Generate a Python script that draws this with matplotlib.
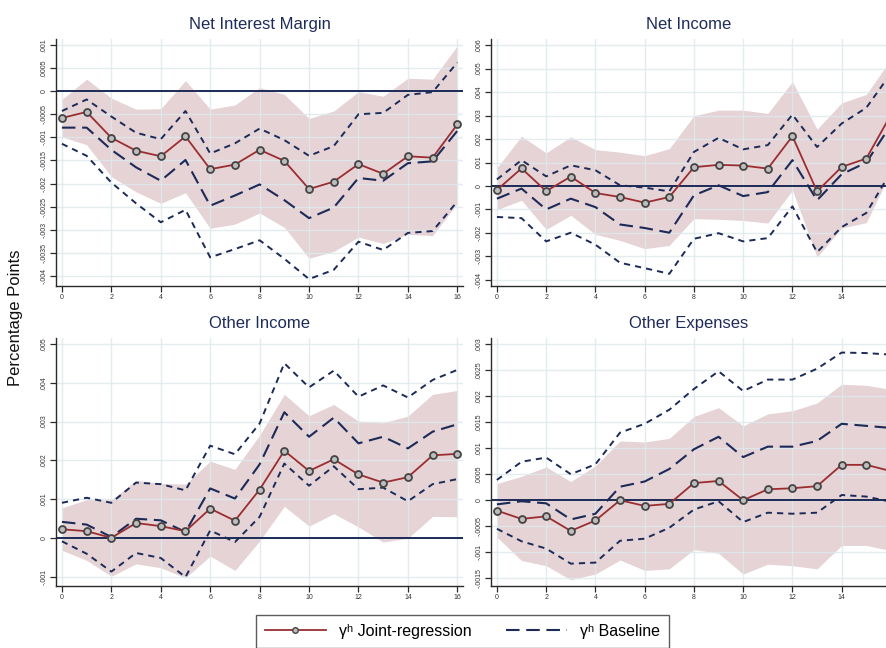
import numpy as np
import matplotlib
matplotlib.use("Agg")
import matplotlib.pyplot as plt
from matplotlib.lines import Line2D
from matplotlib.ticker import FuncFormatter

plt.rcParams['font.family'] = ['Liberation Sans', 'DejaVu Sans']

horizons = list(range(17))

titles = ["Net Interest Margin", "Net Income", "Other Income", "Other Expenses"]

# ---- Net Interest Margin ----
nim_joint = [-0.00058, -0.00045, -0.00101, -0.00129, -0.00141, -0.00098, -0.00169, -0.00159, -0.00127,
             -0.00151, -0.00212, -0.00196, -0.00158, -0.00179, -0.00141, -0.00144, -0.00072]
nim_joint_hi = [-0.00018, 0.00026, -0.00015, -0.00039, -0.00038, 0.00023, -0.00039, -0.00030, 0.00008,
                -0.00007, -0.00059, -0.00043, -0.00001, -0.00011, 0.00028, 0.00026, 0.00098]
nim_joint_lo = [-0.00099, -0.00116, -0.00185, -0.00218, -0.00243, -0.00220, -0.00297, -0.00288, -0.00264,
                -0.00295, -0.00362, -0.00347, -0.00316, -0.00330, -0.00310, -0.00313, -0.00243]
nim_base = [-0.00079, -0.00079, -0.00127, -0.00165, -0.00194, -0.00149, -0.00248, -0.00226, -0.00202,
            -0.00236, -0.00275, -0.00252, -0.00188, -0.00194, -0.00156, -0.00152, -0.00086]
nim_base_hi = [-0.00043, -0.00018, -0.00055, -0.00090, -0.00104, -0.00043, -0.00135, -0.00113, -0.00081,
               -0.00106, -0.00140, -0.00119, -0.00050, -0.00047, -0.00008, -0.00002, 0.00062]
nim_base_lo = [-0.00114, -0.00140, -0.00198, -0.00243, -0.00284, -0.00257, -0.00360, -0.00342, -0.00323,
               -0.00363, -0.00407, -0.00387, -0.00326, -0.00344, -0.00307, -0.00303, -0.00239]

# ---- Net Income ----
ni_joint = [-0.00017, 0.00075, -0.00022, 0.00040, -0.00030, -0.00047, -0.00071, -0.00047, 0.00080,
            0.00090, 0.00087, 0.00074, 0.00212, -0.00023, 0.00081, 0.00117, 0.00303]
ni_joint_hi = [0.00077, 0.00212, 0.00141, 0.00209, 0.00155, 0.00144, 0.00129, 0.00159, 0.00299,
               0.00323, 0.00323, 0.00309, 0.00444, 0.00242, 0.00354, 0.00390, 0.00540]
ni_joint_lo = [-0.00101, -0.00061, -0.00185, -0.00125, -0.00206, -0.00232, -0.00267, -0.00253, -0.00139,
               -0.00142, -0.00147, -0.00158, -0.00018, -0.00303, -0.00179, -0.00156, 0.00060]
ni_base = [-0.00054, -0.00011, -0.00100, -0.00054, -0.00090, -0.00164, -0.00179, -0.00199, -0.00040,
           0.00003, -0.00043, -0.00026, 0.00110, -0.00061, 0.00050, 0.00100, 0.00260]
ni_base_hi = [0.00028, 0.00110, 0.00041, 0.00088, 0.00067, 0.00003, -0.00007, -0.00023, 0.00145,
              0.00205, 0.00156, 0.00174, 0.00304, 0.00166, 0.00266, 0.00333, 0.00480]
ni_base_lo = [-0.00132, -0.00137, -0.00236, -0.00199, -0.00250, -0.00327, -0.00350, -0.00374, -0.00225,
              -0.00201, -0.00236, -0.00222, -0.00087, -0.00282, -0.00175, -0.00115, 0.00060]

# ---- Other Income ----
oi_joint = [0.00023, 0.00018, 0.00001, 0.00039, 0.00031, 0.00018, 0.00076, 0.00045, 0.00125,
            0.00225, 0.00173, 0.00203, 0.00164, 0.00143, 0.00157, 0.00213, 0.00217]
oi_joint_hi = [0.00078, 0.00099, 0.00099, 0.00149, 0.00141, 0.00139, 0.00198, 0.00177, 0.00265,
               0.00370, 0.00315, 0.00344, 0.00301, 0.00297, 0.00314, 0.00370, 0.00380]
oi_joint_lo = [-0.00031, -0.00057, -0.00098, -0.00066, -0.00076, -0.00102, -0.00046, -0.00083, -0.00007,
               0.00082, 0.00031, 0.00063, 0.00029, -0.00010, 0.00000, 0.00056, 0.00055]
oi_base = [0.00042, 0.00035, 0.00003, 0.00050, 0.00046, 0.00016, 0.00128, 0.00102, 0.00190,
           0.00324, 0.00261, 0.00310, 0.00244, 0.00261, 0.00231, 0.00274, 0.00293]
oi_base_hi = [0.00091, 0.00104, 0.00091, 0.00143, 0.00139, 0.00123, 0.00238, 0.00216, 0.00295,
              0.00450, 0.00388, 0.00431, 0.00364, 0.00393, 0.00362, 0.00407, 0.00433]
oi_base_lo = [-0.00008, -0.00040, -0.00086, -0.00038, -0.00051, -0.00100, 0.00020, -0.00010, 0.00055,
              0.00192, 0.00135, 0.00185, 0.00126, 0.00130, 0.00095, 0.00139, 0.00152]

# ---- Other Expenses ----
oe_joint = [-0.00020, -0.00036, -0.00031, -0.00059, -0.00039, 0.00000, -0.00011, -0.00007, 0.00033,
            0.00037, 0.00000, 0.00021, 0.00023, 0.00027, 0.00068, 0.00068, 0.00056]
oe_joint_hi = [0.00032, 0.00046, 0.00064, 0.00036, 0.00066, 0.00114, 0.00112, 0.00119, 0.00161,
               0.00178, 0.00143, 0.00166, 0.00172, 0.00187, 0.00223, 0.00221, 0.00213]
oe_joint_lo = [-0.00071, -0.00116, -0.00126, -0.00153, -0.00142, -0.00115, -0.00135, -0.00132, -0.00095,
               -0.00102, -0.00142, -0.00123, -0.00126, -0.00132, -0.00087, -0.00087, -0.00097]
oe_base = [-0.00008, -0.00002, -0.00006, -0.00037, -0.00026, 0.00026, 0.00036, 0.00060, 0.00098,
           0.00122, 0.00083, 0.00103, 0.00103, 0.00114, 0.00147, 0.00143, 0.00139]
oe_base_hi = [0.00039, 0.00074, 0.00082, 0.00050, 0.00069, 0.00130, 0.00147, 0.00174, 0.00214,
              0.00248, 0.00210, 0.00232, 0.00232, 0.00253, 0.00284, 0.00283, 0.00280]
oe_base_lo = [-0.00055, -0.00079, -0.00093, -0.00122, -0.00120, -0.00078, -0.00074, -0.00053, -0.00018,
              -0.00002, -0.00042, -0.00024, -0.00026, -0.00024, 0.00010, 0.00007, -0.00003]

panels = [
    (nim_joint, nim_joint_lo, nim_joint_hi, nim_base, nim_base_lo, nim_base_hi),
    (ni_joint, ni_joint_lo, ni_joint_hi, ni_base, ni_base_lo, ni_base_hi),
    (oi_joint, oi_joint_lo, oi_joint_hi, oi_base, oi_base_lo, oi_base_hi),
    (oe_joint, oe_joint_lo, oe_joint_hi, oe_base, oe_base_lo, oe_base_hi),
]

ylims = [(-0.00422, 0.00113), (-0.00426, 0.00626), (-0.00123, 0.00515), (-0.00165, 0.00312)]
ystep = [0.0005, 0.001, 0.001, 0.0005]
ytick_range = [(-0.004, 0.001), (-0.004, 0.006), (-0.001, 0.005), (-0.0015, 0.003)]
xtick_max = [16, 14, 16, 14]

W, H = 886, 648
left_l, right_l = 56, 463
left_r, right_r = 491, 886
top_t, bot_t = 39, 286
top_b, bot_b = 338, 586
rects = [
    (left_l, right_l, top_t, bot_t),
    (left_r, right_r, top_t, bot_t),
    (left_l, right_l, top_b, bot_b),
    (left_r, right_r, top_b, bot_b),
]
xlims = [(-0.24, 16.23), (-0.24, 15.8), (-0.24, 16.23), (-0.24, 15.8)]

RED = "#9b2d30"
NAVY = "#1c2a57"
SHADE = "#e5d3d6"
GRID = "#dfe9ec"
TITLE_C = "#1e2c5a"


def stata_fmt(v, pos):
    v = round(v, 6)
    if abs(v) < 1e-9:
        return "0"
    s = ("%.4f" % v).rstrip("0").rstrip(".")
    s = s.replace("0.", ".", 1)
    return s


fig = plt.figure(figsize=(W / 100, H / 100), dpi=100)
fig.patch.set_facecolor("white")

for i, (data, title) in enumerate(zip(panels, titles)):
    l, r, t, b = rects[i]
    ax = fig.add_axes([l / W, 1 - b / H, (r - l) / W, (b - t) / H])
    j, jlo, jhi, bs, blo, bhi = data
    ax.fill_between(horizons, jlo, jhi, color=SHADE, lw=0, zorder=0.5)
    ax.axhline(0, color=NAVY, lw=1.4, zorder=3.5)
    ax.plot(horizons, bhi, color=NAVY, lw=1.4, linestyle=(0, (3.2, 2.6)), zorder=3.6)
    ax.plot(horizons, blo, color=NAVY, lw=1.4, linestyle=(0, (3.2, 2.6)), zorder=3.6)
    ax.plot(horizons, bs, color=NAVY, lw=1.5, linestyle=(0, (6.5, 3.2)), zorder=3.7)
    ax.plot(horizons, j, color=RED, lw=1.3, marker="o", markersize=5,
            markerfacecolor="#bdbdbd", markeredgecolor="#444444", markeredgewidth=1.3, zorder=4)
    ax.set_xlim(*xlims[i])
    ax.set_ylim(*ylims[i])
    ax.set_xticks(range(0, xtick_max[i] + 1, 2))
    lo, hi = ytick_range[i]
    n = int(round((hi - lo) / ystep[i]))
    ax.set_yticks([lo + k * ystep[i] for k in range(n + 1)])
    ax.yaxis.set_major_formatter(FuncFormatter(stata_fmt))
    ax.set_axisbelow(False)
    ax.grid(True, color=GRID, lw=1.0, alpha=0.85)
    for s in ["top", "right"]:
        ax.spines[s].set_visible(False)
    for s in ["left", "bottom"]:
        ax.spines[s].set_color("#2a2a2a")
        ax.spines[s].set_linewidth(1.0)
        ax.spines[s].set_zorder(5)
    ax.tick_params(axis="both", direction="out", length=4, width=0.9, color="#2a2a2a",
                   labelsize=5, labelcolor="#333333", pad=2)
    for lab in ax.get_yticklabels():
        lab.set_rotation(90)
        lab.set_va("center")
    ax.set_title(title, fontsize=12, color=TITLE_C, pad=7)

fig.text(0.018, 0.51, "Percentage Points", rotation=90, fontsize=12, ha="center", va="center",
         color="#111111")

h1 = Line2D([], [], color=RED, lw=1.3, marker="o", markersize=4,
            markerfacecolor="#bdbdbd", markeredgecolor="#444444", markeredgewidth=1.0)
h2 = Line2D([], [], color=NAVY, lw=1.5, linestyle=(0, (6.5, 3.2)))
leg = fig.legend([h1, h2], ["γʰ Joint-regression", "γʰ Baseline"], loc="upper center",
                 bbox_to_anchor=(0.522, 1 - 615 / H), ncol=2, frameon=True, fancybox=False,
                 fontsize=11.5, handlelength=3.8, columnspacing=2.2, borderpad=0.55,
                 handletextpad=0.8, borderaxespad=0.0)
leg.get_frame().set_edgecolor("#333333")
leg.get_frame().set_linewidth(1.0)

fig.savefig("out.png", dpi=100, facecolor="white")
